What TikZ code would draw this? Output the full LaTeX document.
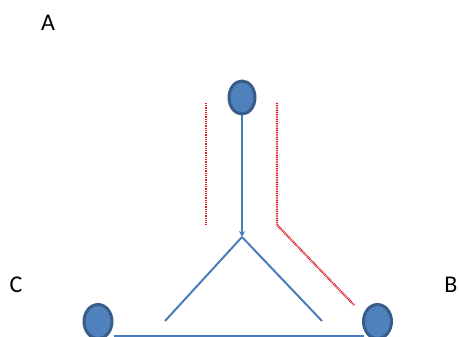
\documentclass[tikz,border=0pt]{standalone}
\usepackage{fontspec}
\setmainfont{Carlito}
\usetikzlibrary{shapes.geometric,arrows.meta}
\definecolor{nodefill}{RGB}{79,129,189}
\definecolor{nodeedge}{RGB}{56,93,138}
\definecolor{linkblue}{RGB}{74,126,187}
\definecolor{pathred}{RGB}{220,30,40}
\begin{document}
\begin{tikzpicture}[x=1pt,y=-1pt,
  vertex/.style={ellipse,fill=nodefill,draw=nodeedge,line width=3pt,inner sep=0pt},
  link/.style={draw=linkblue,line width=2pt},
  route/.style={draw=pathred,line width=2.2pt,dash pattern=on 1pt off 0.8pt},
  lbl/.style={font=\fontsize{24}{28}\selectfont,inner sep=0pt}]
\useasboundingbox (0,0) rectangle (459,337);
\clip (0,0) rectangle (459,337);
% labels
\node[lbl] (la) at (48,23) {A};
\node[lbl] (lb) at (451,285) {B};
\node[lbl] (lc) at (16,285) {C};
% coordinates
\coordinate (apex) at (242,237);
\coordinate (lend) at (165,321);
\coordinate (rend) at (322,321);
\coordinate (bl0) at (114,336);
\coordinate (br0) at (364,336);
% red routes
\coordinate (r1a) at (206,103);
\coordinate (r1b) at (206,224);
\coordinate (r2a) at (277,103);
\coordinate (r2b) at (277,225);
\coordinate (r2c) at (354,305);
\draw[route] (r1a) -- (r1b);
\draw[route] (r2a) -- (r2b) -- (r2c);
% nodes
\node[vertex,minimum width=26pt,minimum height=33pt] (top) at (242,97.5) {};
\node[vertex,minimum width=28pt,minimum height=34pt] (bl) at (98,321.5) {};
\node[vertex,minimum width=28pt,minimum height=34pt] (br) at (377.5,321.5) {};
% links
\draw[link,-{Stealth[length=6pt,width=6pt]}] (top.south) -- (apex);
\draw[link] (apex) -- (lend);
\draw[link] (apex) -- (rend);
\draw[link] (bl0) -- (br0);
\end{tikzpicture}
\end{document}
